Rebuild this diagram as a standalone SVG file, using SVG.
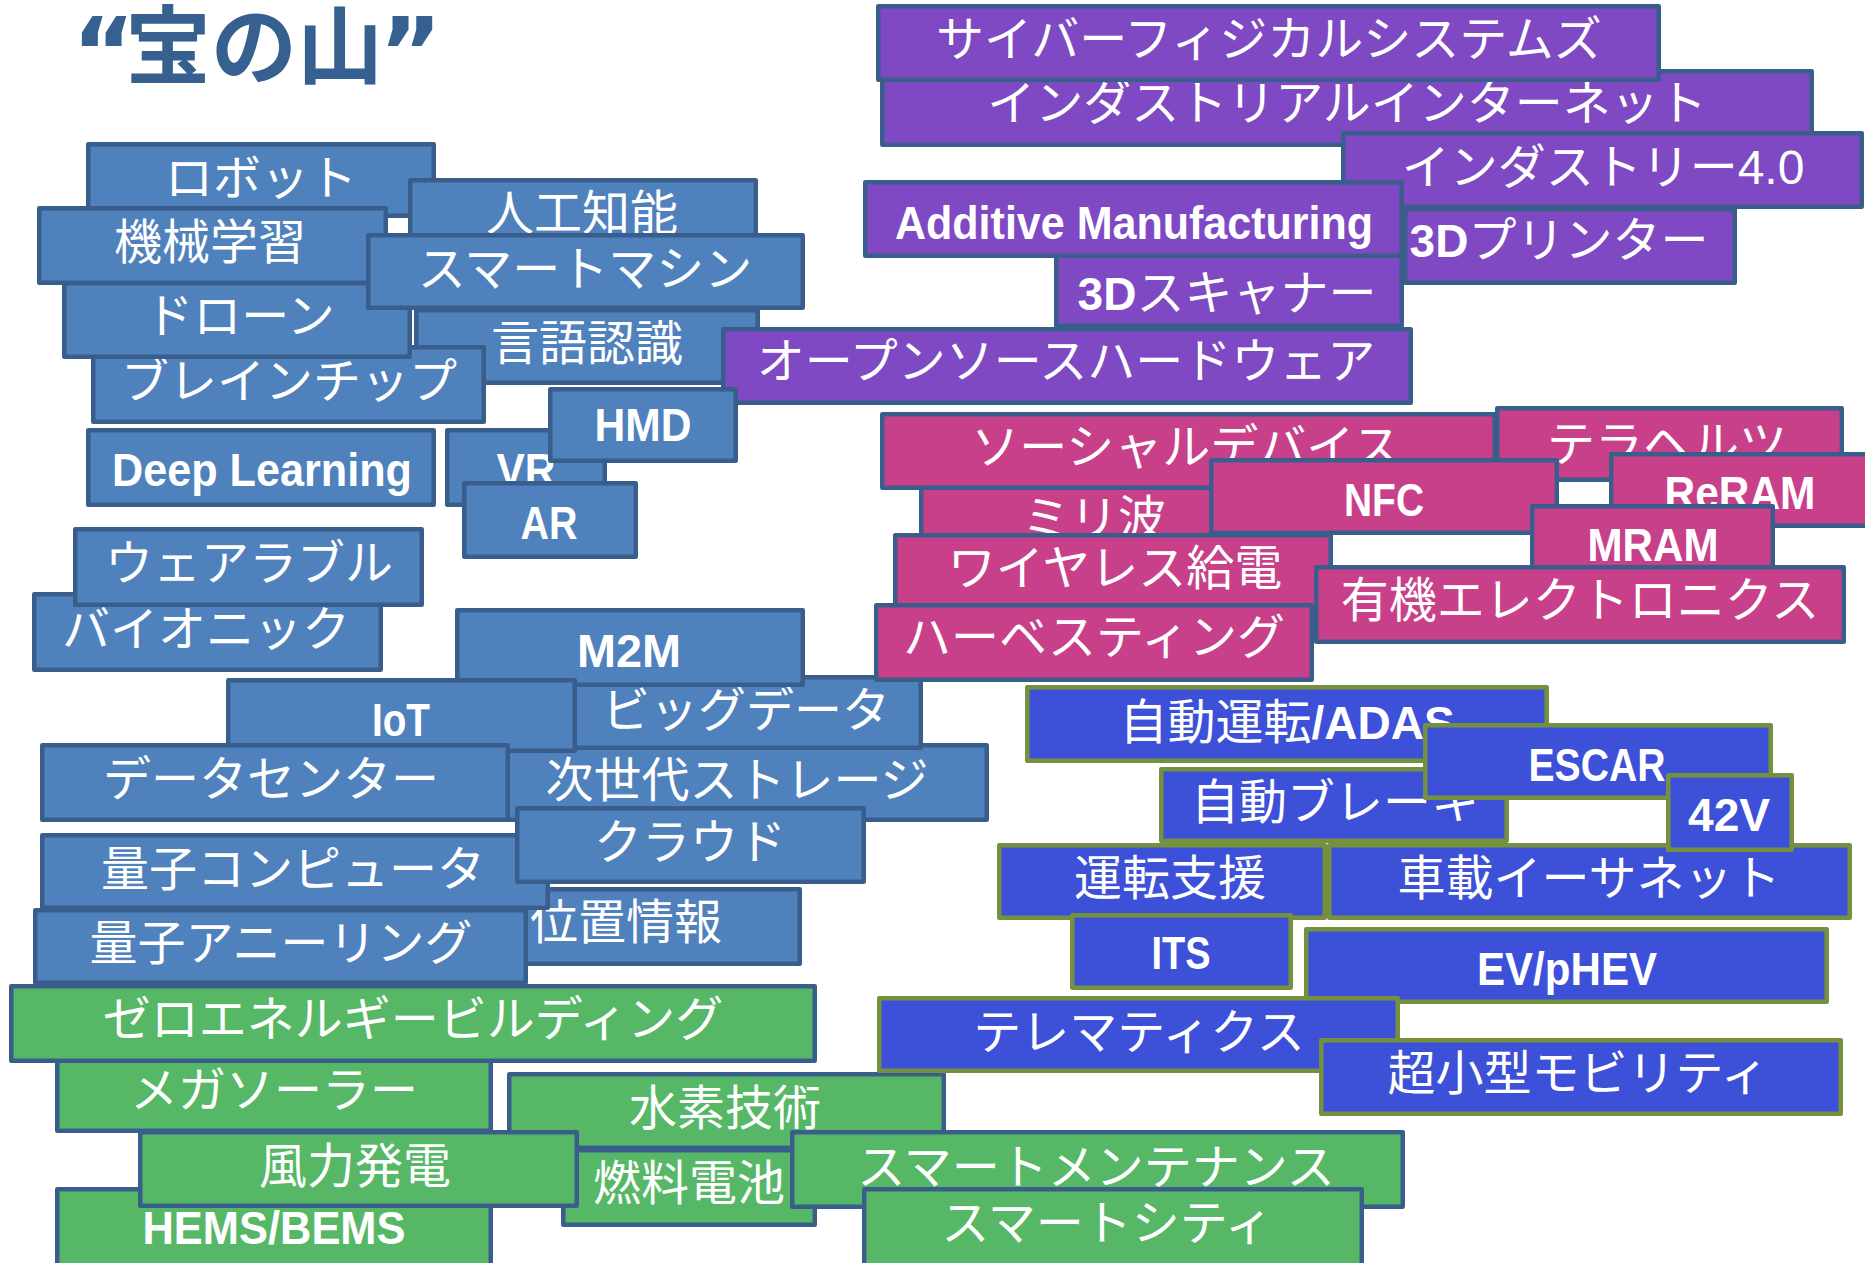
<svg xmlns="http://www.w3.org/2000/svg" width="1865" height="1263" viewBox="0 0 1865 1263">
<style>
rect{stroke-width:4.5;stroke-linejoin:round}
.b rect{fill:#4f81bd;stroke:#3a5e8c}
.p rect{fill:#7e49c3;stroke:#3a5e8c}
.k rect{fill:#c9408a;stroke:#3a5e8c}
.c rect{fill:#3c50d8;stroke:#76913e}
.g rect{fill:#56b866;stroke:#3a5e8c}
text{font-family:"Liberation Sans","Noto Sans CJK JP",sans-serif;font-size:48px;fill:#fff;text-anchor:middle}
.L{font-weight:bold;font-size:46px}
text.title{font-family:"Noto Sans CJK JP","Liberation Sans",sans-serif;font-size:86px;font-weight:bold;fill:#36608f;text-anchor:start}
.q{font-family:"DejaVu Sans","Liberation Sans",sans-serif;font-size:96px}
</style>
<rect width="1865" height="1263" fill="#fff" style="stroke:none"/>
<text class="title" y="78"><tspan class="q" x="72" y="86">“</tspan><tspan x="125" y="78">宝の山</tspan><tspan class="q" x="379" y="86">”</tspan></text>
<g id="connectors"/>
<g id="nodes">
<g id="robot" class="b"><rect x="88.25" y="144.25" width="345.5" height="71.5"/><text x="261" y="195">ロボット</text></g>
<g id="jinkochino" class="b"><rect x="410.25" y="180.25" width="345.5" height="73.5"/><text x="582" y="230">人工知能</text></g>
<g id="kikaigakushu" class="b"><rect x="39.25" y="208.25" width="346.5" height="74.5"/><text x="210" y="259">機械学習</text></g>
<g id="gengoninshiki" class="b"><rect x="416.25" y="310.25" width="341.5" height="72.5"/><text x="587" y="360">言語認識</text></g>
<g id="brainchip" class="b"><rect x="93.25" y="347.25" width="390.5" height="74.5"/><text x="289" y="398">ブレインチップ</text></g>
<g id="drone" class="b"><rect x="64.25" y="283.25" width="345.5" height="73.5"/><text x="240" y="333">ドローン</text></g>
<g id="smartmachine" class="b"><rect x="368.25" y="235.25" width="434.5" height="72.5"/><text x="585" y="286">スマートマシン</text></g>
<g id="deeplearning" class="b"><rect x="88.25" y="430.25" width="345.5" height="74.5"/><text class="L" x="262" y="485.5" textLength="300" lengthAdjust="spacingAndGlyphs">Deep Learning</text></g>
<g id="vr" class="b"><rect x="447.25" y="430.25" width="157.5" height="74.5"/><text class="L" x="526" y="485.5" textLength="59" lengthAdjust="spacingAndGlyphs">VR</text></g>
<g id="ar" class="b"><rect x="464.25" y="483.25" width="171.5" height="73.5"/><text class="L" x="549" y="538.5" textLength="57" lengthAdjust="spacingAndGlyphs">AR</text></g>

<g id="industrialinternet" class="p"><rect x="882.25" y="71.25" width="929.5" height="73.5"/><text x="1347" y="120">インダストリアルインターネット</text></g>
<g id="cyberphysical" class="p"><rect x="878.25" y="6.25" width="780.5" height="73.5"/><text x="1269" y="56">サイバーフィジカルシステムズ</text></g>
<g id="industry40" class="p"><rect x="1343.25" y="133.25" width="518.5" height="73.5"/><text x="1603" y="184">インダストリー4.0</text></g>
<g id="printer3d" class="p"><rect x="1405.25" y="209.25" width="329.5" height="73.5"/><text x="1559" y="257"><tspan class="L">3D</tspan>プリンター</text></g>
<g id="scanner3d" class="p"><rect x="1056.25" y="252.25" width="345.5" height="73.5"/><text x="1227" y="310"><tspan class="L">3D</tspan>スキャナー</text></g>
<g id="additive" class="p"><rect x="865.25" y="182.25" width="536.5" height="73.5"/><text class="L" x="1134" y="238.5" textLength="478" lengthAdjust="spacingAndGlyphs">Additive Manufacturing</text></g>
<g id="opensourcehw" class="p"><rect x="723.25" y="329.25" width="687.5" height="73.5"/><text x="1066" y="378">オープンソースハードウェア</text></g>
<g id="hmd" class="b"><rect x="550.25" y="389.25" width="185.5" height="71.5"/><text class="L" x="643" y="440.5" textLength="97" lengthAdjust="spacingAndGlyphs">HMD</text></g>

<g id="bionic" class="b"><rect x="34.25" y="594.25" width="346.5" height="75.5"/><text x="206" y="646">バイオニック</text></g>
<g id="wearable" class="b"><rect x="75.25" y="529.25" width="346.5" height="75.5"/><text x="249" y="580">ウェアラブル</text></g>
<g id="nextstorage" class="b"><rect x="487.25" y="745.25" width="499.5" height="74.5"/><text x="737" y="797">次世代ストレージ</text></g>
<g id="bigdata" class="b"><rect x="572.25" y="677.25" width="348.5" height="70.5"/><text x="746" y="727">ビッグデータ</text></g>
<g id="m2m" class="b"><rect x="457.25" y="610.25" width="345.5" height="74.5"/><text class="L" x="629" y="666.5" textLength="104" lengthAdjust="spacingAndGlyphs">M2M</text></g>
<g id="iot" class="b"><rect x="228.25" y="680.25" width="346.5" height="70.5"/><text class="L" x="401" y="735.5" textLength="58" lengthAdjust="spacingAndGlyphs">IoT</text></g>
<g id="datacenter" class="b"><rect x="42.25" y="745.25" width="465.5" height="74.5"/><text x="271" y="796">データセンター</text></g>
<g id="ichijoho" class="b"><rect x="452.25" y="889.25" width="347.5" height="74.5"/><text x="626" y="939">位置情報</text></g>
<g id="quantumcomputer" class="b"><rect x="42.25" y="835.25" width="505.5" height="72.5"/><text x="293" y="886">量子コンピュータ</text></g>
<g id="cloud" class="b"><rect x="517.25" y="808.25" width="346.5" height="73.5"/><text x="690" y="859">クラウド</text></g>
<g id="annealing" class="b"><rect x="35.25" y="910.25" width="490.5" height="72.5"/><text x="281" y="960">量子アニーリング</text></g>

<g id="miriha" class="k"><rect x="921.25" y="483.25" width="345.5" height="73.5"/><text x="1094" y="535">ミリ波</text></g>
<g id="socialdevice" class="k"><rect x="882.25" y="414.25" width="612.5" height="73.5"/><text x="1186" y="464">ソーシャルデバイス</text></g>
<g id="terahertz" class="k"><rect x="1497.25" y="408.25" width="344.5" height="71.5"/><text x="1667" y="461">テラヘルツ</text></g>
<g id="nfc" class="k"><rect x="1211.25" y="460.25" width="345.5" height="72.5"/><text class="L" x="1384" y="515.5" textLength="80" lengthAdjust="spacingAndGlyphs">NFC</text></g>
<g id="reram" class="k"><rect x="1611.25" y="454.25" width="257.5" height="71.5"/><text class="L" x="1740" y="508.5" textLength="151" lengthAdjust="spacingAndGlyphs">ReRAM</text></g>
<g id="mram" class="k"><rect x="1532.25" y="506.25" width="240.5" height="73.5"/><text class="L" x="1653" y="560.5" textLength="131" lengthAdjust="spacingAndGlyphs">MRAM</text></g>
<g id="wireless" class="k"><rect x="895.25" y="535.25" width="435.5" height="74.5"/><text x="1115" y="585">ワイヤレス給電</text></g>
<g id="harvesting" class="k"><rect x="876.25" y="605.25" width="435.5" height="74.5"/><text x="1094" y="654">ハーベスティング</text></g>
<g id="organic" class="k"><rect x="1316.25" y="567.25" width="527.5" height="74.5"/><text x="1580" y="617">有機エレクトロニクス</text></g>

<g id="megasolar" class="g"><rect x="57.25" y="1056.25" width="433.5" height="74.5"/><text x="274" y="1107">メガソーラー</text></g>
<g id="zeroenergy" class="g"><rect x="11.25" y="986.25" width="803.5" height="74.5"/><text x="413" y="1036">ゼロエネルギービルディング</text></g>
<g id="suiso" class="g"><rect x="509.25" y="1074.25" width="434.5" height="73.5"/><text x="725" y="1125">水素技術</text></g>
<g id="nenryo" class="g"><rect x="563.25" y="1150.25" width="251.5" height="74.5"/><text x="689" y="1200">燃料電池</text></g>
<g id="hems" class="g"><rect x="57.25" y="1189.25" width="433.5" height="76.5"/><text class="L" x="274" y="1243.5" textLength="263" lengthAdjust="spacingAndGlyphs">HEMS/BEMS</text></g>
<g id="furyoku" class="g"><rect x="140.25" y="1132.25" width="436.5" height="73.5"/><text x="355" y="1183">風力発電</text></g>
<g id="smartmaint" class="g"><rect x="792.25" y="1132.25" width="610.5" height="74.5"/><text x="1096" y="1184">スマートメンテナンス</text></g>
<g id="smartcity" class="g"><rect x="864.25" y="1189.25" width="497.5" height="76.5"/><text x="1107" y="1240">スマートシティ</text></g>

<g id="adas" class="c"><rect x="1027.25" y="687.25" width="519.5" height="73.5"/><text x="1287" y="739">自動運転<tspan class="L">/ADAS</tspan></text></g>
<g id="brake" class="c"><rect x="1161.25" y="769.25" width="345.5" height="71.5"/><text x="1335" y="819">自動ブレーキ</text></g>
<g id="untenshien" class="c"><rect x="999.25" y="845.25" width="325.5" height="72.5"/><text x="1170" y="895">運転支援</text></g>
<g id="ethernet" class="c"><rect x="1329.25" y="845.25" width="520.5" height="72.5"/><text x="1589" y="895">車載イーサネット</text></g>
<g id="escar" class="c"><rect x="1425.25" y="725.25" width="345.5" height="72.5"/><text class="L" x="1597" y="780.5" textLength="137" lengthAdjust="spacingAndGlyphs">ESCAR</text></g>
<g id="v42" class="c"><rect x="1668.25" y="775.25" width="123.5" height="74.5"/><text class="L" x="1729" y="830.5" textLength="82" lengthAdjust="spacingAndGlyphs">42V</text></g>
<g id="its" class="c"><rect x="1072.25" y="915.25" width="218.5" height="72.5"/><text class="L" x="1181" y="968.5" textLength="59" lengthAdjust="spacingAndGlyphs">ITS</text></g>
<g id="ev" class="c"><rect x="1306.25" y="929.25" width="520.5" height="72.5"/><text class="L" x="1567" y="984.5" textLength="180" lengthAdjust="spacingAndGlyphs">EV/pHEV</text></g>
<g id="telematics" class="c"><rect x="879.25" y="998.25" width="518.5" height="72.5"/><text x="1139" y="1049">テレマティクス</text></g>
<g id="mobility" class="c"><rect x="1321.25" y="1040.25" width="519.5" height="73.5"/><text x="1578" y="1090">超小型モビリティ</text></g>
</g>
</svg>
